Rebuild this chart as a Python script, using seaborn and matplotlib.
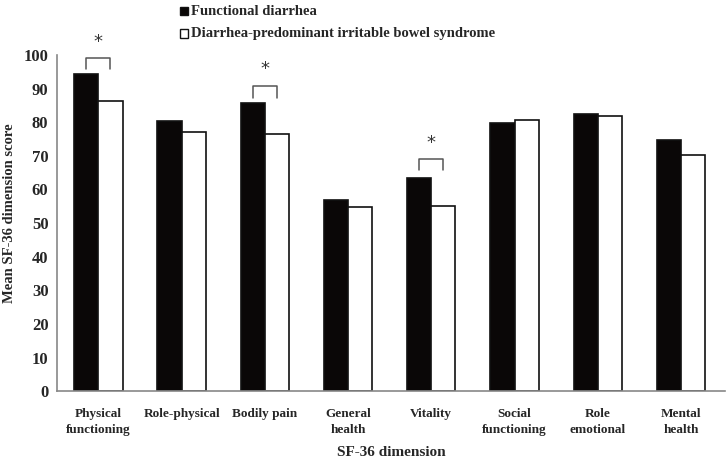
"""SF-36 dimension scores: functional diarrhea vs IBS-D."""

import matplotlib
matplotlib.use("Agg")
import matplotlib.pyplot as plt
import pandas as pd
import seaborn as sns

dimensions = [
    "Physical\nfunctioning", "Role-physical", "Bodily pain", "General\nhealth",
    "Vitality", "Social\nfunctioning", "Role\nemotional", "Mental\nhealth",
]
groups = ["Functional diarrhea", "Diarrhea-predominant irritable bowel syndrome"]
fd_scores = [94.3, 80.3, 85.8, 57.0, 63.5, 79.8, 82.3, 74.8]
ibsd_scores = [86.2, 77.0, 76.5, 54.7, 55.0, 80.8, 81.8, 70.2]
# significance brackets: (category index, bracket top, bracket foot)
sig_pairs = [(0, 99.0, 95.8), (2, 90.8, 87.3), (4, 69.0, 65.8)]

df = pd.DataFrame({
    "dimension": dimensions * 2,
    "group": [groups[0]] * len(dimensions) + [groups[1]] * len(dimensions),
    "score": fd_scores + ibsd_scores,
})

sns.set_style("white")
plt.rcParams["font.family"] = ["Liberation Serif", "DejaVu Serif"]
plt.rcParams["font.weight"] = "bold"

fig = plt.figure(figsize=(7.28, 4.58), dpi=100)
ax = fig.add_axes([0.078, 0.146, 0.918, 0.734])

sns.barplot(
    data=df, x="dimension", y="score", hue="group", order=dimensions,
    hue_order=groups, palette=["#0a0706", "white"], edgecolor="#111111",
    linewidth=1.2, width=0.58, gap=0, errorbar=None, ax=ax, legend=False,
)

ax.set_ylim(0, 100)
ax.set_xlim(-0.5, len(dimensions) - 0.5 + 0.03)
ax.set_yticks(range(0, 101, 10))
ax.set_yticklabels([str(v) for v in range(0, 101, 10)], fontsize=12, fontweight="bold")
ax.set_xticks(range(len(dimensions)))
ax.set_xticklabels(dimensions, fontsize=9.5, fontweight="bold", linespacing=1.45)
ax.set_xticks([i + 0.5 for i in range(len(dimensions))], minor=True)
ax.tick_params(axis="x", which="major", length=0, pad=12)
ax.tick_params(axis="x", which="minor", direction="in", length=3, color="#888888")
ax.tick_params(axis="y", direction="out", length=4, color="#888888", pad=2)

for side in ["top", "right"]:
    ax.spines[side].set_visible(False)
for side in ["left", "bottom"]:
    ax.spines[side].set_color("#888888")
    ax.spines[side].set_linewidth(1.2)

ax.set_xlabel("SF-36 dimension", fontsize=11, fontweight="bold", labelpad=7)
ax.set_ylabel("Mean SF-36 dimension score", fontsize=10.5, fontweight="bold")
ax.yaxis.set_label_coords(-0.061, 0.53)

half = 0.58 / 4
for idx, top, foot in sig_pairs:
    x0, x1 = idx - half, idx + half
    ax.plot([x0, x0, x1, x1], [foot, top, top, foot], color="#555555", lw=1.1, clip_on=False)
    ax.text(idx, top + 2.2, "*", ha="center", va="bottom", fontsize=13,
            color="#333333", fontweight="normal", family="DejaVu Sans", clip_on=False)

# legend drawn as square markers at the top
for i, (label, face) in enumerate(zip(groups, ["#0a0706", "white"])):
    y = 0.987 - i * 0.049
    fig.patches.append(plt.Rectangle((0.2475, y - 0.02), 0.011, 0.018, transform=fig.transFigure,
                                     facecolor=face, edgecolor="#111111", lw=1))
    fig.text(0.263, y - 0.012, label, fontsize=10.5, fontweight="bold", va="center")

fig.savefig("out.png", dpi=100)
